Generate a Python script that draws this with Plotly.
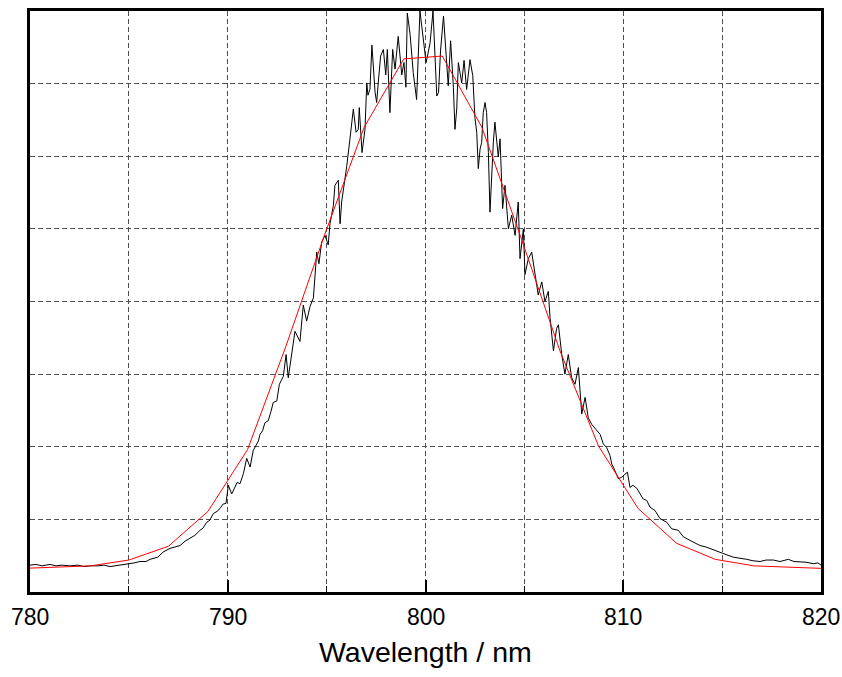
import plotly.graph_objects as go

# Measured emission spectrum (wavelength in nm, intensity in arbitrary units)
spec_wl = [
    780.00, 780.30, 780.61, 781.01, 781.31, 781.62, 782.02, 782.43, 782.73, 783.03,
    783.44, 783.74, 784.05, 784.35, 784.65, 784.96, 785.26, 785.56, 785.87, 786.07,
    786.32, 786.47, 786.73, 786.93, 787.08, 787.33, 787.59, 787.84, 788.09, 788.34,
    788.60, 788.75, 788.94, 789.10, 789.27, 789.46, 789.61, 789.76, 789.91, 790.03,
    790.20, 790.34, 790.48, 790.62, 790.79, 790.96, 791.13, 791.29, 791.38, 791.55,
    791.63, 791.76, 791.88, 792.05, 792.19, 792.30, 792.48, 792.61, 792.81, 792.95,
    793.06, 793.23, 793.40, 793.65, 793.82, 793.99, 794.16, 794.33, 794.50, 794.61,
    794.75, 794.92, 795.08, 795.17, 795.34, 795.42, 795.51, 795.59, 795.68, 795.76,
    796.02, 796.10, 796.18, 796.35, 796.49, 796.60, 796.65, 796.79, 796.94, 797.03,
    797.09, 797.19, 797.29, 797.45, 797.53, 797.61, 797.73, 797.87, 797.99, 798.07,
    798.20, 798.34, 798.46, 798.62, 798.80, 798.91, 799.01, 799.08, 799.22, 799.38,
    799.55, 799.72, 799.89, 800.03, 800.13, 800.23, 800.38, 800.48, 800.57, 800.66,
    800.76, 800.91, 801.07, 801.15, 801.27, 801.41, 801.49, 801.58, 801.66, 801.83,
    801.95, 802.08, 802.25, 802.39, 802.50, 802.59, 802.67, 802.76, 802.84, 802.92,
    803.01, 803.09, 803.18, 803.26, 803.43, 803.51, 803.68, 803.77, 803.90, 804.02,
    804.19, 804.36, 804.53, 804.69, 804.78, 804.95, 805.03, 805.20, 805.37, 805.54,
    805.70, 805.88, 806.04, 806.21, 806.30, 806.47, 806.63, 806.72, 806.89, 807.05,
    807.22, 807.39, 807.56, 807.73, 807.90, 808.07, 808.23, 808.40, 808.57, 808.83,
    808.99, 809.16, 809.33, 809.42, 809.50, 809.63, 809.75, 809.92, 810.21, 810.34,
    810.49, 810.68, 810.85, 811.01, 811.19, 811.35, 811.61, 811.86, 812.20, 812.45,
    812.78, 813.04, 813.38, 813.63, 813.88, 814.18, 814.55, 814.98, 815.25, 815.56,
    815.90, 816.24, 816.56, 816.92, 817.22, 817.59, 817.93, 818.35, 818.63, 818.94,
    819.24, 819.61, 819.85, 820.00,
]
spec_int = [
    0.37, 0.38, 0.36, 0.38, 0.36, 0.37, 0.36, 0.37, 0.35, 0.36,
    0.36, 0.37, 0.35, 0.36, 0.37, 0.39, 0.40, 0.42, 0.42, 0.45,
    0.47, 0.48, 0.55, 0.58, 0.60, 0.62, 0.64, 0.70, 0.74, 0.78,
    0.85, 0.88, 0.96, 0.99, 1.08, 1.11, 1.15, 1.21, 1.22, 1.47,
    1.35, 1.44, 1.51, 1.49, 1.63, 1.84, 1.72, 1.95, 1.99, 2.08,
    2.17, 2.22, 2.33, 2.36, 2.49, 2.61, 2.63, 2.86, 2.97, 3.27,
    2.95, 3.27, 3.59, 3.45, 3.95, 3.73, 3.93, 4.05, 4.68, 4.52,
    4.82, 4.91, 4.78, 5.07, 5.32, 5.60, 5.64, 5.67, 5.07, 5.37,
    5.87, 6.10, 6.24, 6.65, 6.33, 6.37, 6.67, 6.05, 6.37, 7.01,
    6.84, 6.92, 7.53, 6.88, 6.74, 7.01, 7.38, 7.47, 7.12, 7.47,
    6.60, 7.47, 7.20, 7.65, 7.12, 7.29, 6.95, 7.97, 7.68, 7.15,
    6.78, 8.00, 7.63, 7.29, 7.42, 7.56, 8.00, 7.42, 6.83, 6.88,
    7.45, 7.93, 7.20, 6.97, 7.59, 6.95, 6.37, 6.65, 7.29, 7.01,
    7.32, 6.92, 7.33, 7.11, 6.53, 6.33, 5.83, 6.10, 6.19, 6.60,
    6.74, 6.60, 6.05, 5.23, 6.19, 6.47, 5.99, 6.24, 5.28, 5.60,
    5.00, 5.19, 4.91, 5.37, 4.59, 5.00, 4.37, 4.59, 4.68, 4.37,
    4.09, 4.27, 4.00, 4.14, 3.77, 3.32, 3.63, 3.68, 3.27, 3.00,
    3.27, 2.95, 2.86, 3.09, 2.45, 2.68, 2.40, 2.31, 2.26, 2.17,
    2.04, 1.99, 1.88, 1.76, 1.72, 1.64, 1.56, 1.58, 1.65, 1.44,
    1.47, 1.43, 1.35, 1.28, 1.26, 1.17, 1.12, 1.01, 0.96, 0.87,
    0.85, 0.76, 0.71, 0.68, 0.64, 0.62, 0.58, 0.53, 0.51, 0.48,
    0.47, 0.45, 0.43, 0.42, 0.44, 0.44, 0.42, 0.45, 0.42, 0.42,
    0.41, 0.39, 0.40, 0.37,
]

# Fitted profile, evaluated on a coarse wavelength grid
fit_wl = [779.15, 781.1, 783.05, 785.0, 787.0, 789.0, 791.0, 792.95, 794.9, 796.9,
          798.9, 800.85, 802.85, 804.8, 806.8, 808.75, 810.75, 812.7, 814.65,
          816.6, 818.6, 820.55]
fit_int = [0.32, 0.335, 0.36, 0.44, 0.63, 1.11, 1.96, 3.39, 4.92, 6.40,
           7.34, 7.38, 6.40, 4.90, 3.32, 2.01, 1.15, 0.67, 0.45,
           0.36, 0.335, 0.32]

x_range = [780, 820]
x_ticks = [780, 790, 800, 810, 820]
x_minor = [785, 795, 805, 815]
y_range = [0, 8]
x_title = "Wavelength / nm"

FONT = "Liberation Sans, Arial, sans-serif"
GRID = dict(showgrid=True, gridcolor="#505050", gridwidth=1, griddash="5px,3px")

fig = go.Figure()
fig.add_trace(go.Scatter(x=spec_wl, y=spec_int, mode="lines",
                         line=dict(color="black", width=1), showlegend=False))
fig.add_trace(go.Scatter(x=fit_wl, y=fit_int, mode="lines",
                         line=dict(color="#ff0000", width=1), showlegend=False))

# Tick labels sit close under the inside ticks; placed on the x scale
annotations = [
    dict(x=v, xref="x", y=0, yref="paper", yanchor="middle", yshift=-25,
         text=str(v), showarrow=False,
         font=dict(size=23, family=FONT, color="black"))
    for v in x_ticks
]
annotations.append(
    dict(x=0.5, xref="paper", y=0, yref="paper", yanchor="middle", yshift=-60,
         text=x_title, showarrow=False,
         font=dict(size=28.5, family=FONT, color="black"))
)

fig.update_layout(
    width=842, height=677,
    margin=dict(l=30, r=21, t=8, b=85),
    paper_bgcolor="white", plot_bgcolor="white",
    font=dict(family=FONT, color="black"),
    annotations=annotations,
)
fig.update_xaxes(
    range=x_range, tickvals=x_ticks, showticklabels=False,
    ticks="inside", ticklen=12, tickwidth=2, tickcolor="black",
    showline=True, linecolor="black", linewidth=2.5, mirror=True,
    zeroline=False,
    minor=dict(tickvals=x_minor, ticks="inside", ticklen=6,
               tickwidth=1, tickcolor="black", **GRID),
    **GRID,
)
fig.update_yaxes(
    range=y_range, dtick=1, showticklabels=False, ticks="",
    showline=True, linecolor="black", linewidth=2.5, mirror=True,
    zeroline=False,
    **GRID,
)

fig.write_html("out.html")
